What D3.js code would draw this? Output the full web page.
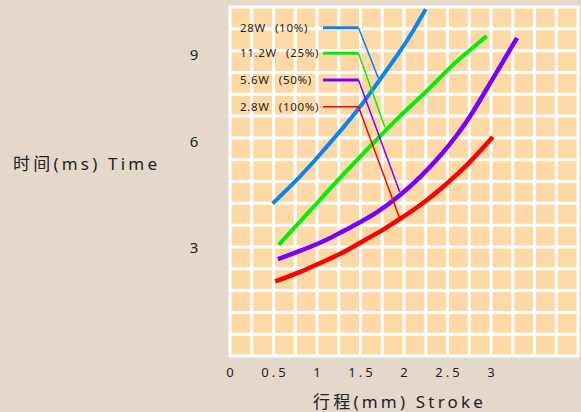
<!DOCTYPE html>
<html>
<head>
<meta charset="UTF-8">
<title>Stroke - Time</title>
<script src="https://cdn.jsdelivr.net/npm/d3@7"></script>
<style>
    body { margin: 0; background: #e3d8ca; }
    svg text { font-family: "Noto Sans", "Noto Sans CJK SC", sans-serif; fill: #222; }
</style>
</head>
<body>
<div id="chart"></div>
<script>
var svgW = 581, svgH = 412;

// tick labels
var xTicks = [0, 0.5, 1, 1.5, 2, 2.5, 3];
var yTicks = [3, 6, 9];

// series: [stroke mm, time ms]
var s28W = [[0.49, 4.26], [0.75, 4.87], [0.99, 5.52], [1.25, 6.31], [1.49, 7.17], [1.72, 8.14], [1.95, 9.10], [2.10, 9.79], [2.25, 10.57]];
var s11W = [[0.56, 3.09], [0.92, 4.05], [1.26, 4.98], [1.58, 5.80], [1.95, 6.90], [2.28, 7.79], [2.53, 8.59], [2.76, 9.17], [2.95, 9.65]];
var s5W = [[0.55, 2.69], [0.81, 2.92], [1.12, 3.23], [1.26, 3.43], [1.46, 3.68], [1.67, 3.96], [1.95, 4.47], [2.18, 4.98], [2.45, 5.69], [2.62, 6.28], [2.76, 6.86], [2.99, 8.03], [3.15, 8.83], [3.30, 9.59]];
var s2W = [[0.52, 2.07], [0.81, 2.33], [1.03, 2.58], [1.30, 2.86], [1.55, 3.23], [1.78, 3.54], [1.95, 3.82], [2.18, 4.19], [2.41, 4.64], [2.64, 5.15], [2.76, 5.43], [3.02, 6.17]];

var legendPower = ["28W", "11.2W", "5.6W", "2.8W"];
var legendDuty = ["(10%)", "(25%)", "(50%)", "(100%)"];
var seriesColors = ["#0a84f0", "#00f000", "#7800ff", "#ff0000"];
// where each legend leader touches its curve
var leaderTargets = [[1.705, 8.20], [1.78, 6.51], [1.95, 4.59], [1.95, 3.84]];

var allSeries = [s28W, s11W, s5W, s2W];

var plotL = 230, plotR = 578, plotT = 7, plotB = 356;

var x = d3.scaleLinear().domain([0, 4]).range([plotL, plotR]);
// the printed y labels are not evenly spaced, so the scale follows them
var y = d3.scaleLinear().domain([0, 3, 6, 10.65]).range([plotB, 248, 142, plotT]);
var gridY = d3.scaleLinear().domain([0, 16]).range([plotB, plotT]);

var svg = d3.select("#chart").append("svg")
        .attr("width", svgW)
        .attr("height", svgH);

svg.append("rect")
        .attr("x", plotL).attr("y", plotT)
        .attr("width", plotR - plotL).attr("height", plotB - plotT)
        .attr("fill", "#fed9a5");

// white grid, 16 x 16 cells
svg.append("g").selectAll("line")
        .data(d3.range(0, 4.001, 0.25))
        .enter().append("line")
        .attr("x1", function (d) { return x(d); })
        .attr("x2", function (d) { return x(d); })
        .attr("y1", plotT).attr("y2", plotB)
        .attr("stroke", "#fff").attr("stroke-width", 3);
svg.append("g").selectAll("line")
        .data(d3.range(0, 17))
        .enter().append("line")
        .attr("y1", function (d) { return gridY(d); })
        .attr("y2", function (d) { return gridY(d); })
        .attr("x1", plotL - 1.5).attr("x2", plotR + 1.5)
        .attr("stroke", "#fff").attr("stroke-width", 3);

// tick labels
svg.append("g").selectAll("text")
        .data(xTicks)
        .enter().append("text")
        .attr("x", function (d) { return x(d) + 1.5; })
        .attr("y", 377)
        .attr("text-anchor", "middle")
        .style("font-size", "13px")
        .style("letter-spacing", "3px")
        .text(function (d) { return d; });
svg.append("g").selectAll("text")
        .data(yTicks)
        .enter().append("text")
        .attr("x", 194)
        .attr("y", function (d) { return y(d); })
        .attr("dy", "0.36em")
        .attr("text-anchor", "middle")
        .style("font-size", "15px")
        .text(function (d) { return d; });

// axis titles
svg.append("text")
        .attr("x", 313).attr("y", 408)
        .style("font-size", "17px")
        .style("letter-spacing", "3.2px")
        .text("行程(mm) Stroke");
svg.append("text")
        .attr("x", 13).attr("y", 170)
        .style("font-size", "17px")
        .style("letter-spacing", "3.2px")
        .text("时间(ms) Time");

// curves
var line = d3.line()
        .x(function (d) { return x(d[0]); })
        .y(function (d) { return y(d[1]); })
        .curve(d3.curveBasis);

svg.append("g").selectAll("path")
        .data(allSeries)
        .enter().append("path")
        .attr("d", line)
        .attr("fill", "none")
        .attr("stroke", function (d, i) { return seriesColors[i]; })
        .attr("stroke-width", function (d, i) { return i < 2 ? 4 : 4.5; })
        .attr("stroke-linecap", "butt");

// legend with leader lines
var rowY = [27.7, 53.3, 80, 106.7];
var legend = svg.append("g");
legendPower.forEach(function (lab, i) {
    var t = legend.append("text")
            .attr("x", 240).attr("y", rowY[i] + 4)
            .style("font-size", "11.5px")
            .style("letter-spacing", "0.7px");
    t.append("tspan").text(lab);
    t.append("tspan").attr("dx", 9).text(legendDuty[i]);
    legend.append("line")
            .attr("x1", 323).attr("x2", 358.5)
            .attr("y1", rowY[i]).attr("y2", rowY[i])
            .attr("stroke", seriesColors[i])
            .attr("stroke-width", i < 3 ? 3 : 1.5);
    legend.append("line")
            .attr("x1", 358.5).attr("y1", rowY[i])
            .attr("x2", x(leaderTargets[i][0]))
            .attr("y2", y(leaderTargets[i][1]))
            .attr("stroke", seriesColors[i])
            .attr("stroke-width", 1.5);
});
</script>
</body>
</html>
